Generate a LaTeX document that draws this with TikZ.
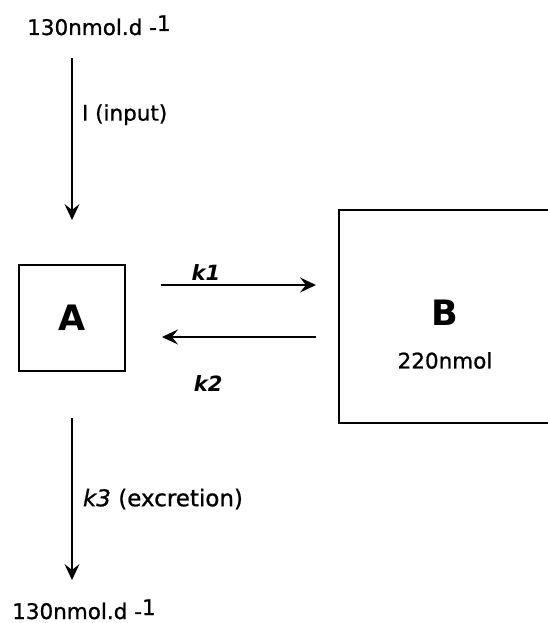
\documentclass[tikz,border=0pt]{standalone}
\usepackage{fontspec}
\setmainfont{DejaVu Sans}[ItalicFont={DejaVu Sans Oblique}, BoldFont={DejaVu Sans Bold}, BoldItalicFont={DejaVu Sans Bold Oblique}, UprightFeatures={FakeBold=0.9}, ItalicFeatures={FakeBold=0.9}]
\usetikzlibrary{arrows.meta, positioning}

\begin{document}
\begin{tikzpicture}[x=1pt, y=-1pt, >={Stealth[length=16pt, width=15pt, inset=6pt]}]
        % Define styles
        \tikzstyle{compartment} = [draw, line width=2.6pt, rectangle, inner sep=0pt, font=\fontsize{35}{40}\selectfont\bfseries]
        \tikzstyle{cname} = [inner sep=0pt, font=\fontsize{35}{40}\selectfont\bfseries]
        \tikzstyle{flux} = [->, line width=2pt]
        \tikzstyle{txt} = [inner sep=0pt, font=\fontsize{21.5}{26}\selectfont]
        \tikzstyle{rate} = [inner sep=0pt, font=\fontsize{21}{24}\selectfont\bfseries\itshape]

        \useasboundingbox (0,0) rectangle (548,623);

        % Nodes
        \node [txt, anchor=base west] (dosein) at (27,35) {130nmol.d -\raisebox{4pt}{1}};
        \node [compartment, minimum size=106pt] (A) at (72,318) {A};
        \node [compartment, minimum width=212pt, minimum height=213pt] (B) at (445,316.5) {};
        \node [cname] (Bname) at (445,313) {B};
        \node [txt, below=26pt of Bname] (Bamount) {220nmol};
        \node [txt, anchor=base west] (doseout) at (12,619) {130nmol.d -\raisebox{4pt}{1}};

        \coordinate (inTop) at (72,58);
        \coordinate (inEnd) at (72,220);
        \coordinate (k1Start) at (161,285);
        \coordinate (k1End) at (316,285);
        \coordinate (k2Start) at (316,337);
        \coordinate (k2End) at (162,337);
        \coordinate (outTop) at (72,418);
        \coordinate (outEnd) at (72,580);

        % Edges
        \draw [flux] (inTop) -- node [txt, anchor=west, pos=0.35, xshift=9pt] {I (input)} (inEnd);
        \draw [flux] (k1Start) -- node [rate, above=4pt, pos=0.29] {k1} (k1End);
        \draw [flux] (k2Start) -- node [rate, below=38pt, pos=0.70] {k2} (k2End);
        \draw [flux] (outTop) -- node [txt, anchor=west, pos=0.5, xshift=10pt, font=\fontsize{23}{26}\selectfont] {\textit{k3} (excretion)} (outEnd);
\end{tikzpicture}
\end{document}
